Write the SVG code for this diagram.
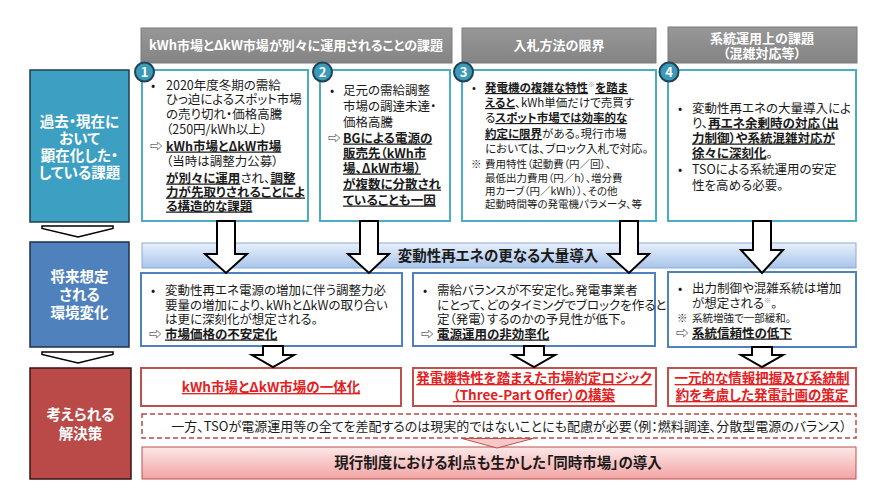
<svg xmlns="http://www.w3.org/2000/svg" width="894" height="496" viewBox="0 0 894 496">
<defs>
<linearGradient id="gBand" x1="0" y1="0" x2="0" y2="1"><stop offset="0" stop-color="#E8F0FB"/><stop offset="1" stop-color="#A9C5EA"/></linearGradient>
<linearGradient id="gPink" x1="0" y1="0" x2="0" y2="1"><stop offset="0" stop-color="#FDE8E8"/><stop offset="1" stop-color="#F2A3A3"/></linearGradient>
<linearGradient id="gHead" x1="0" y1="0" x2="0" y2="1"><stop offset="0" stop-color="#979797"/><stop offset="1" stop-color="#848484"/></linearGradient>
<style>
text{font-family:"Noto Sans CJK JP","Noto Sans",sans-serif;font-feature-settings:"palt" 1;fill:#1a1a1a}
.hd{fill:#fff;font-weight:bold;font-size:13px;text-anchor:middle}
.lb{fill:#fff;font-weight:bold;font-size:14.5px;text-anchor:middle}
.t1{font-size:12.5px}
.t3{font-size:11.5px}
.nt{font-size:10.5px}
.bu{font-weight:bold;text-decoration:underline}
.rt{fill:#E3211E;font-weight:bold;font-size:13.5px;text-anchor:middle;text-decoration:underline}
.num{fill:#fff;font-weight:bold;font-size:13px;text-anchor:middle}
.sup{font-size:7px;fill:#888}
.hdbox{fill:url(#gHead);stroke:#7a7a7a;stroke-width:1}
.tbox{fill:#fff;stroke:#4BACC6;stroke-width:2}
.bbox{fill:#fff;stroke:#4F81BD;stroke-width:2}
.rbox{fill:#fff;stroke:#C0504D;stroke-width:2}
.circ{fill:#3A9AB7;stroke:#1F4356;stroke-width:2}
.arr{fill:#fff;stroke:#000;stroke-width:2;stroke-linejoin:miter}
.chev{fill:#fff;stroke:#000;stroke-width:1.5}
</style>
</defs>
<rect width="894" height="496" fill="#fff"/>

<!-- headers -->
<g id="header1"><rect class="hdbox" x="141" y="28" width="311" height="35"/><text class="hd" x="296" y="50">kWh市場とΔkW市場が別々に運用されることの課題</text></g>
<g id="header3"><rect class="hdbox" x="462" y="28" width="194" height="35"/><text class="hd" x="559" y="50">入札方法の限界</text></g>
<g id="header4"><rect class="hdbox" x="668" y="27" width="189" height="36"/><text class="hd"><tspan x="762" y="43">系統運用上の課題</tspan><tspan x="762" y="58">（混雑対応等）</tspan></text></g>

<!-- left labels -->
<g id="label1"><rect x="30" y="70" width="99" height="152" fill="#3DA0C2" stroke="#1B3F4F" stroke-width="1.5"/>
<text class="lb"><tspan x="79.5" y="127">過去・現在に</tspan><tspan x="79.5" y="144">おいて</tspan><tspan x="79.5" y="161">顕在化した・</tspan><tspan x="79.5" y="178">している課題</tspan></text></g>
<g id="label2"><rect x="30" y="242" width="99" height="105" fill="#4F81BD" stroke="#1F2F4F" stroke-width="1.5"/>
<text class="lb"><tspan x="79.5" y="282">将来想定</tspan><tspan x="79.5" y="300">される</tspan><tspan x="79.5" y="318">環境変化</tspan></text></g>
<g id="label3"><rect x="30" y="368" width="101" height="111" fill="#B94A48" stroke="#3A1515" stroke-width="1.5"/>
<text class="lb"><tspan x="80.5" y="420">考えられる</tspan><tspan x="80.5" y="439">解決策</tspan></text></g>

<!-- row 1 boxes -->
<g id="issue1"><rect class="tbox" x="142" y="70" width="166" height="151"/>
<text class="t1"><tspan x="151" y="89.5">•</tspan><tspan x="166" y="89.5">2020年度冬期の需給</tspan><tspan x="166" y="103.5">ひっ迫によるスポット市場</tspan><tspan x="166" y="118.5">の売り切れ・価格高騰</tspan><tspan x="166" y="133.5">（250円/kWh以上）</tspan><tspan x="150" y="150.5">⇨</tspan><tspan x="166" y="150.5" class="bu">kWh市場とΔkW市場</tspan><tspan x="166" y="165.5">（当時は調整力公募）</tspan><tspan x="166" y="182.5"><tspan class="bu">が別々に運用</tspan>され、<tspan class="bu">調整</tspan></tspan><tspan x="166" y="196.5" class="bu">力が先取りされることによ</tspan><tspan x="166" y="210.5" class="bu">る構造的な課題</tspan></text>
<circle class="circ" cx="144.5" cy="72" r="9.5"/><text class="num" x="144.5" y="76.5">1</text></g>

<g id="issue2"><rect class="tbox" x="320" y="70" width="130" height="151"/>
<text class="t1"><tspan x="330" y="94.5">•</tspan><tspan x="343" y="94.5">足元の需給調整</tspan><tspan x="343" y="110.5">市場の調達未達・</tspan><tspan x="343" y="126.5">価格高騰</tspan><tspan x="328" y="142.5">⇨</tspan><tspan x="343" y="142.5" class="bu">BGによる電源の</tspan><tspan x="343" y="157.5" class="bu">販売先（kWh市</tspan><tspan x="343" y="172.5" class="bu">場、ΔkW市場）</tspan><tspan x="343" y="188.5" class="bu">が複数に分散され</tspan><tspan x="343" y="204.5" class="bu">ていることも一因</tspan></text>
<circle class="circ" cx="322.5" cy="72" r="9.5"/><text class="num" x="322.5" y="76.5">2</text></g>

<g id="issue3"><rect class="tbox" x="462" y="70" width="194" height="151"/>
<text class="t3"><tspan x="472" y="92">•</tspan><tspan x="485" y="92"><tspan class="bu">発電機の複雑な特性</tspan><tspan class="sup" dy="-5">※</tspan><tspan class="bu" dy="5">を踏ま</tspan></tspan><tspan x="485" y="107"><tspan class="bu">えると</tspan>、kWh単価だけで売買す</tspan><tspan x="485" y="122">る<tspan class="bu">スポット市場では効率的な</tspan></tspan><tspan x="485" y="138"><tspan class="bu">約定に限界</tspan>がある。現行市場</tspan><tspan x="485" y="153">においては、ブロック入札で対応。</tspan></text>
<text class="nt"><tspan x="471" y="168">※</tspan><tspan x="485" y="168">費用特性（起動費（円／回）、</tspan><tspan x="485" y="182">最低出力費用（円／h）、増分費</tspan><tspan x="485" y="195">用カーブ（円／kWh））、その他</tspan><tspan x="485" y="208">起動時間等の発電機パラメータ、等</tspan></text>
<circle class="circ" cx="463.5" cy="72" r="9.5"/><text class="num" x="463.5" y="76.5">3</text></g>

<g id="issue4"><rect class="tbox" x="668" y="70" width="188" height="151"/>
<text class="t1"><tspan x="678" y="112.5">•</tspan><tspan x="692" y="112.5">変動性再エネの大量導入によ</tspan><tspan x="692" y="127.5">り、<tspan class="bu">再エネ余剰時の対応（出</tspan></tspan><tspan x="692" y="142.5" class="bu">力制御）や系統混雑対応が</tspan><tspan x="692" y="157.5"><tspan class="bu">徐々に深刻化</tspan>。</tspan><tspan x="678" y="173.5">•</tspan><tspan x="692" y="173.5">TSOによる系統運用の安定</tspan><tspan x="692" y="189.5">性を高める必要。</tspan></text>
<circle class="circ" cx="669" cy="72" r="9.5"/><text class="num" x="669" y="76.5">4</text></g>

<!-- band -->
<g id="band"><rect x="142" y="243" width="714" height="25" fill="url(#gBand)" stroke="#8EAAD6" stroke-width="1"/>
<text x="498" y="261" style="font-weight:bold;font-size:14.5px;text-anchor:middle">変動性再エネの更なる大量導入</text></g>

<!-- row 2 boxes -->
<g id="env1"><rect class="bbox" x="141" y="273" width="261" height="73"/>
<text class="t1"><tspan x="151" y="294.5">•</tspan><tspan x="165" y="294.5">変動性再エネ電源の増加に伴う調整力必</tspan><tspan x="165" y="309.5">要量の増加により、kWhとΔkWの取り合い</tspan><tspan x="165" y="323.5">は更に深刻化が想定される。</tspan><tspan x="149" y="338.5">⇨</tspan><tspan x="165" y="338.5" class="bu">市場価格の不安定化</tspan></text></g>

<g id="env2"><rect class="bbox" x="413" y="273" width="242" height="73"/>
<text class="t1"><tspan x="423" y="294.5">•</tspan><tspan x="437" y="294.5">需給バランスが不安定化。発電事業者</tspan><tspan x="437" y="309.5">にとって、どのタイミングでブロックを作ると約</tspan><tspan x="437" y="323.5">定（発電）するのかの予見性が低下。</tspan><tspan x="421" y="338.5">⇨</tspan><tspan x="437" y="338.5" class="bu">電源運用の非効率化</tspan></text></g>

<g id="env3"><rect class="bbox" x="668" y="272" width="188" height="75"/>
<text class="t1"><tspan x="678" y="292.5">•</tspan><tspan x="692" y="292.5">出力制御や混雑系統は増加</tspan><tspan x="692" y="307.5">が想定される<tspan class="sup" dy="-5">※</tspan><tspan dy="5">。</tspan></tspan></text>
<text class="nt"><tspan x="677" y="322">※</tspan><tspan x="692" y="322">系統増強で一部緩和。</tspan></text>
<text class="t1"><tspan x="676" y="337.5">⇨</tspan><tspan x="692" y="337.5" class="bu">系統信頼性の低下</tspan></text></g>

<!-- row 3 -->
<g id="sol1"><rect class="rbox" x="141" y="368" width="260" height="38"/>
<text class="rt" x="271" y="392">kWh市場とΔkW市場の一体化</text></g>
<g id="sol2"><rect class="rbox" x="413" y="368" width="243" height="38"/>
<text class="rt"><tspan x="534" y="383">発電機特性を踏まえた市場約定ロジック</tspan><tspan x="534" y="400">（Three-Part Offer）の構築</tspan></text></g>
<g id="sol3"><rect class="rbox" x="668" y="368" width="188" height="38"/>
<text class="rt"><tspan x="762" y="383">一元的な情報把握及び系統制</tspan><tspan x="762" y="400">約を考慮した発電計画の策定</tspan></text></g>

<g id="note"><rect x="142" y="414" width="714" height="24" fill="#fff" stroke="#B94A48" stroke-width="1.5" stroke-dasharray="5,3"/>
<text x="509" y="431" style="font-size:13px;text-anchor:middle">一方、TSOが電源運用等の全てを差配するのは現実的ではないことにも配慮が必要（例：燃料調達、分散型電源のバランス）</text></g>

<g id="final"><rect x="142" y="447" width="714" height="32" fill="url(#gPink)" stroke="#C0504D" stroke-width="1"/>
<text x="498" y="468" style="font-weight:bold;font-size:14.5px;text-anchor:middle">現行制度における利点も生かした「同時市場」の導入</text></g>

<!-- connectors -->
<g id="connectors">
<polygon class="chev" points="42,226 113,226 113,228.5 78,237 42,228.5"/>
<polygon class="chev" points="42,352 113,352 113,354.5 78,363 42,354.5"/>
<polygon class="arr" points="217,221 235,221 235,254 247,254 226,273 205,254 217,254"/>
<polygon class="arr" points="360,221 378,221 378,254 389,254 369,273 348,254 360,254"/>
<polygon class="arr" points="620,221 638,221 638,254 649,254 629,273 608,254 620,254"/>
<polygon class="arr" points="753,221 771,221 771,250 783,250 762,273 741,250 753,250"/>
<polygon class="arr" points="263,346 283,346 283,355 294,355 273,367 252,355 263,355"/>
<polygon class="arr" points="524,346 544,346 544,355 555,355 534,367 513,355 524,355"/>
<polygon class="arr" points="752,347 772,347 772,355 783,355 762,367 741,355 752,355"/>
<polygon points="462,438.5 533,438.5 497,448" fill="#F6C9C9" stroke="#C0504D" stroke-width="1"/>
</g>
</svg>
